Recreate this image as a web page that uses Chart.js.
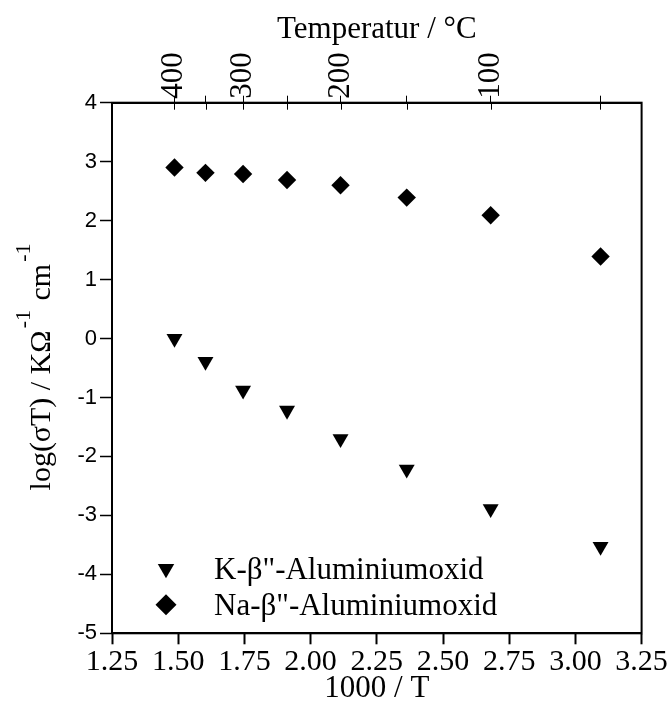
<!DOCTYPE html>
<html><head><meta charset="utf-8">
<script src="https://cdn.jsdelivr.net/npm/chart.js@4/dist/chart.umd.min.js"></script>
<style>html,body{margin:0;padding:0;background:#fff}#wrap{width:671px;height:707px}</style>
</head><body><div id="wrap"><canvas id="c" width="671" height="707"></canvas></div>
<script>
// ---- data ----
const xValues = [1.486, 1.603, 1.745, 1.911, 2.113, 2.363, 2.680, 3.095]; // 1000/T
const kValues = [0.00, -0.39, -0.88, -1.22, -1.70, -2.22, -2.89, -3.53];
const naValues = [2.90, 2.81, 2.79, 2.69, 2.60, 2.39, 2.09, 1.39];
const seriesLabels = ['K-β"-Aluminiumoxid', 'Na-β"-Aluminiumoxid'];
const xTickValues = [1.25, 1.50, 1.75, 2.00, 2.25, 2.50, 2.75, 3.00, 3.25];
const yTickValues = [-5, -4, -3, -2, -1, 0, 1, 2, 3, 4];
const tempTicks = [400, 350, 300, 250, 200, 150, 100, 50];   // °C, top axis tick marks
const tempLabeled = [400, 300, 200, 100];                   // °C, labelled ones
const xTitle = '1000 / T';
const topTitle = 'Temperatur / °C';
const yTitleParts = ['log(σT) / KΩ', '-1', ' cm', '-1'];

const toInvT = t => 1000 / (t + 273.15);
const SERIF = "'Liberation Serif', 'Times New Roman', serif";
const SANS = "'Liberation Sans', Arial, sans-serif";

const framePlugin = {
  id: 'frame',
  afterDraw(chart) {
    const {ctx, chartArea: a} = chart;
    ctx.save();
    ctx.strokeStyle = '#000'; ctx.lineWidth = 2;
    ctx.strokeRect(a.left, a.top, a.right - a.left, a.bottom - a.top);
    // inner part of the top-axis ticks (they cross the axis)
    const s = chart.scales.x2;
    ctx.lineWidth = 1;
    ctx.beginPath();
    s.ticks.forEach(t => {
      const px = Math.round(s.getPixelForValue(t.value)) + 0.5;
      ctx.moveTo(px, a.top); ctx.lineTo(px, a.top + 7);
    });
    ctx.stroke();
    ctx.restore();
  }
};

const yTitlePlugin = {
  id: 'ytitle',
  afterDraw(chart) {
    const {ctx} = chart;
    const mainFont = '30px ' + SERIF, supFont = '22px ' + SERIF;
    ctx.save();
    ctx.fillStyle = '#000';
    ctx.textBaseline = 'alphabetic';
    ctx.textAlign = 'left';
    const fonts = [mainFont, supFont, mainFont, supFont];
    const gaps = [0, 2, 2, 2];
    const widths = yTitleParts.map((p, i) => { ctx.font = fonts[i]; return ctx.measureText(p).width; });
    const total = widths.reduce((a, b) => a + b, 0) + gaps.reduce((a, b) => a + b, 0);
    const cy = 367;
    ctx.translate(49.5, cy + total / 2);
    ctx.rotate(-Math.PI / 2);
    let x = 0;
    yTitleParts.forEach((p, i) => {
      x += gaps[i];
      ctx.font = fonts[i];
      ctx.fillText(p, x, i % 2 ? -20 : 0);
      x += widths[i];
    });
    ctx.restore();
  }
};

const legendPlugin = {
  id: 'innerLegend',
  afterDraw(chart) {
    const {ctx, chartArea: a} = chart;
    ctx.save();
    ctx.font = '31px ' + SERIF;
    ctx.textBaseline = 'alphabetic';
    ctx.textAlign = 'left';
    const rows = [{base: a.bottom - 54, my: a.bottom - 64.5, r: 9.5}, {base: a.bottom - 18, my: a.bottom - 28.5, r: 10.5}];
    chart.data.datasets.forEach((ds, i) => {
      const row = rows[i];
      ctx.fillStyle = '#000';
      Chart.helpers.drawPoint(ctx, {pointStyle: ds.pointStyle, rotation: ds.pointRotation || 0, radius: row.r, borderWidth: 0}, a.left + 54, row.my);
      ctx.fillStyle = '#000';
      ctx.fillText(ds.label, a.left + 102, row.base);
    });
    ctx.restore();
  }
};

new Chart(document.getElementById('c'), {
  type: 'scatter',
  data: {
    datasets: [
      {label: seriesLabels[0], data: xValues.map((x, i) => ({x, y: kValues[i]})),
       pointStyle: 'triangle', pointRotation: 180, pointRadius: 9.2, pointHoverRadius: 9.2,
       backgroundColor: '#000', borderColor: '#000', borderWidth: 0, xAxisID: 'x', yAxisID: 'y'},
      {label: seriesLabels[1], data: xValues.map((x, i) => ({x, y: naValues[i]})),
       pointStyle: 'rectRot', pointRadius: 9.2, pointHoverRadius: 9.2,
       backgroundColor: '#000', borderColor: '#000', borderWidth: 0, xAxisID: 'x', yAxisID: 'y'}
    ]
  },
  options: {
    responsive: false, animation: false,
    layout: {padding: {left: 0, right: 29.4, top: 0, bottom: 0}},
    plugins: {legend: {display: false}, tooltip: {enabled: false}},
    scales: {
      x: {
        type: 'linear', position: 'bottom', min: 1.25, max: 3.25,
        afterBuildTicks: s => { s.ticks = xTickValues.map(v => ({value: v})); },
        afterFit: s => { s.height = 73.7; },
        ticks: {autoSkip: false, minRotation: 0, maxRotation: 0, padding: 0, color: '#000',
                font: {family: SERIF, size: 30}, callback: v => Number(v).toFixed(2)},
        grid: {drawOnChartArea: false, drawTicks: true, tickLength: 11, tickWidth: 2, color: '#000'},
        border: {display: true, color: '#000', width: 2},
        title: {display: true, text: xTitle, color: '#000', font: {family: SERIF, size: 31}, padding: {top: 0, bottom: 0}}
      },
      x2: {
        type: 'linear', position: 'top', min: 1.25, max: 3.25,
        afterBuildTicks: s => { s.ticks = tempTicks.map(t => ({value: toInvT(t)})); },
        afterFit: s => { s.height = 102.7; },
        ticks: {autoSkip: false, minRotation: 90, maxRotation: 90, padding: -3, color: '#000',
                font: {family: SERIF, size: 31, lineHeight: 0.001},
                callback: (v, i) => tempLabeled.includes(tempTicks[i]) ? String(tempTicks[i]) : ''},
        grid: {drawOnChartArea: false, drawTicks: true, tickLength: 7, tickWidth: 1, color: '#000'},
        border: {display: true, color: '#000', width: 2},
        title: {display: true, text: topTitle, color: '#000', font: {family: SERIF, size: 31}, padding: {top: 11, bottom: 0}}
      },
      y: {
        type: 'linear', position: 'left', min: -5, max: 4,
        afterBuildTicks: s => { s.ticks = yTickValues.map(v => ({value: v})); },
        afterFit: s => { s.width = 112; },
        ticks: {padding: 3, color: '#000', font: {family: SANS, size: 22}, callback: v => String(v)},
        grid: {drawOnChartArea: false, drawTicks: true, tickLength: 12, tickWidth: 1.5, color: '#000'},
        border: {display: true, color: '#000', width: 2}
      }
    }
  },
  plugins: [framePlugin, yTitlePlugin, legendPlugin]
});
</script>
</body></html>
